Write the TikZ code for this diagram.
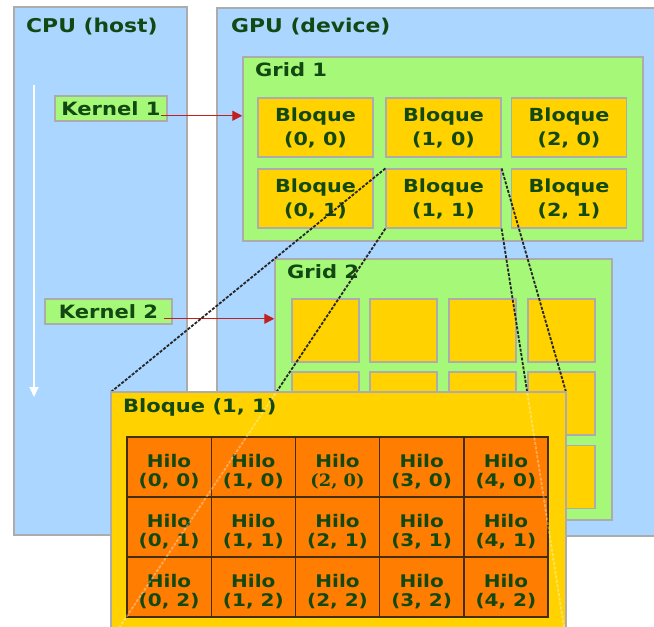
\documentclass[tikz,border=0pt]{standalone}
\usepackage{fontspec}
\setmainfont{DejaVu Sans}[FakeStretch=1.15]
\newfontfamily\serifbold{DejaVu Serif}[FakeStretch=1.05]
\usepackage{tikz}
\usetikzlibrary{positioning,calc,arrows.meta}
\usepackage{xcolor}

\definecolor{hostblue}{RGB}{170,214,255}
\definecolor{gridgreen}{RGB}{166,248,120}
\definecolor{blockyellow}{RGB}{255,210,0}
\definecolor{hiloorange}{RGB}{255,125,0}
\definecolor{hiloedge}{RGB}{70,45,10}
\definecolor{txtgreen}{RGB}{18,72,18}
\definecolor{edgegray}{RGB}{172,172,172}
\definecolor{callred}{RGB}{192,32,30}

\tikzset{
  panel/.style={draw=edgegray, line width=1.5pt, fill=hostblue, inner sep=0pt},
  gridbox/.style={draw=edgegray, line width=1.5pt, fill=gridgreen, inner sep=0pt},
  kbox/.style={gridbox, minimum height=25pt, text=txtgreen,
    font=\fontsize{18.3}{22}\selectfont\bfseries},
  blockbox/.style={draw=edgegray, line width=1.2pt, fill=blockyellow, inner sep=0pt,
    minimum width=115pt, minimum height=59pt, align=center, text=txtgreen,
    font=\fontsize{18}{24}\selectfont\bfseries},
  minibox/.style={draw=edgegray, line width=1.2pt, fill=blockyellow, inner sep=0pt,
    minimum width=67pt, minimum height=63pt},
  hilobox/.style={draw=hiloedge, line width=1.4pt, fill=hiloorange, inner sep=0pt,
    minimum width=84.2pt, minimum height=60pt},
  hilotext/.style={inner sep=0pt, align=center, text=txtgreen,
    font=\fontsize{17.4}{19}\selectfont\bfseries},
  lbl/.style={anchor=west, inner sep=0pt, text=txtgreen,
    font=\fontsize{18.3}{22}\selectfont\bfseries},
  biglbl/.style={lbl, font=\fontsize{19}{22}\selectfont\bfseries},
  callarrow/.style={draw=callred, line width=1.3pt, -{Triangle[length=10pt,width=10pt]}},
  timeline/.style={draw=white, line width=2pt, -{Triangle[length=10pt,width=9pt]}},
  zoomline/.style={draw=black!85, line width=1.8pt, dash pattern=on 3pt off 1.5pt},
}

\begin{document}
\begin{tikzpicture}[x=1pt,y=-1pt]
    \useasboundingbox (0,0) rectangle (654,627);

    % host y device
    \node[panel, minimum width=173pt, minimum height=528pt] (cpu) at (100.5,271) {};
    \node[panel, minimum width=443pt, minimum height=528pt] (gpu) at (438.5,272) {};
    \node[biglbl] (cpulbl) at (26,27) {CPU (host)};
    \node[biglbl] (gpulbl) at (231,27) {GPU (device)};

    % flujo del host
    \coordinate (t0) at (34,85);
    \coordinate (t1) at (34,397);
    \draw[timeline] (t0) -- (t1);
    \node[kbox, minimum width=112pt] (k1) at (111,108.5) {Kernel 1};
    \node[kbox, minimum width=127pt] (k2) at (108.5,311.5) {Kernel 2};

    % Grid 1
    \node[gridbox, minimum width=400pt, minimum height=184pt] (grid1) at (443,149) {};
    \node[lbl] (grid1lbl) at (255,70) {Grid 1};
    \foreach \i/\x in {0/315.5,1/443.5,2/569}
        \foreach \j/\y in {0/127.5,1/198.5}
            \node[blockbox] (b\i\j) at (\x,\y) {Bloque\\(\i, \j)};

    % Grid 2
    \node[gridbox, minimum width=337pt, minimum height=261pt] (grid2) at (443.5,389.5) {};
    \node[lbl] (grid2lbl) at (287,272) {Grid 2};
    \foreach \x [count=\i] in {325.5,403.5,482.5,561.5}
        \foreach \y [count=\j] in {330.5,403.5,477}
            \node[minibox] (s\i\j) at (\x,\y) {};

    % llamadas
    \draw[callarrow] ($(k1.south east)+(-7,-6)$) coordinate (k1out) -- (k1out -| grid1.west);
    \draw[callarrow] ($(k2.south east)+(-9,-6)$) coordinate (k2out) -- (k2out -| grid2.west);

    % ampliacion del bloque (1, 1)
    \coordinate (bq-nw) at (111,392);
    \coordinate (bq-ne) at (566,392);
    \coordinate (bq-sw) at (111,640);
    \coordinate (bq-se) at (566,640);
    \draw[zoomline] (b11.north west) -- (bq-nw);
    \draw[zoomline] (b11.south west) -- (bq-sw);
    \draw[zoomline] (b11.north east) -- (bq-ne);
    \draw[zoomline] (b11.south east) -- (bq-se);

    \draw[draw=edgegray, line width=1.5pt, fill=blockyellow] (bq-nw) rectangle (bq-se);
    \node[lbl] (bqlbl) at (123,407) {Bloque (1, 1)};
    \foreach \i in {0,...,4}
        \foreach \j in {0,1,2} {
            \node[hilobox] (h\i\j) at ({169.1+84.2*\i},{467+60*\j}) {};
            \node[hilotext] (ht\i\j) at ([yshift=-5pt]h\i\j.center)
                {Hilo\\\ifnum\i\j=20 {\serifbold\fontsize{17}{19}\selectfont(2, 0)}\else(\i, \j)\fi};
        }

    % lineas vistas a traves del bloque
    \begin{scope}
        \clip (bq-nw) rectangle (bq-se);
        \draw[zoomline, draw=white, opacity=0.35] (b11.south west) -- (bq-sw);
        \draw[zoomline, draw=white, opacity=0.35] (b11.south east) -- (bq-se);
    \end{scope}
\end{tikzpicture}
\end{document}
